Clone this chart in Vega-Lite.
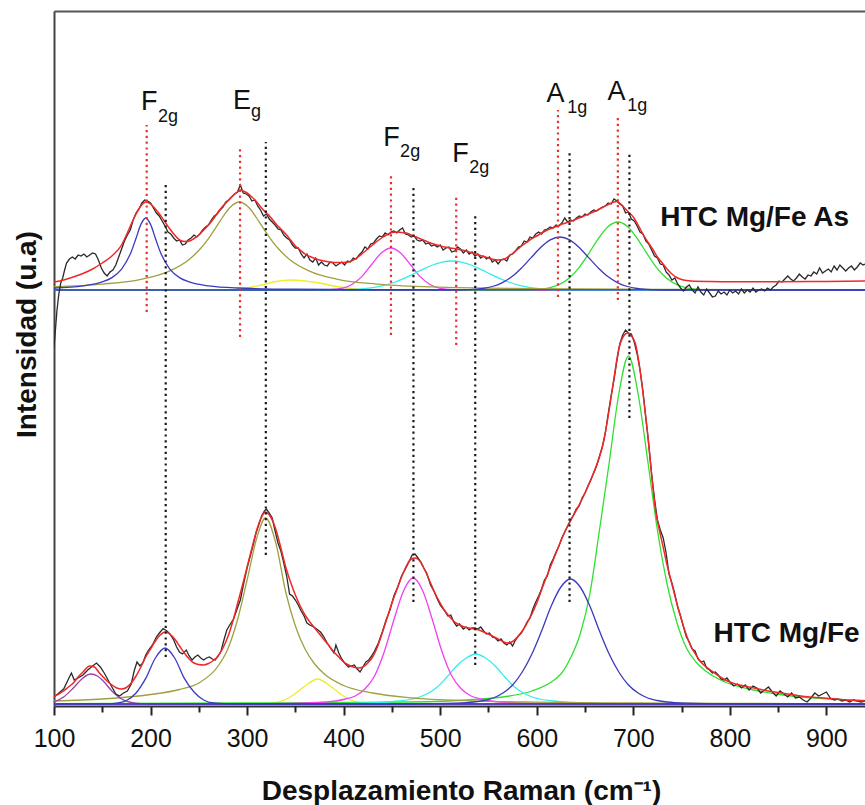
{
  "$schema": "https://vega.github.io/schema/vega-lite/v6.json",
  "width": 811,
  "height": 695,
  "autosize": {"type": "none"},
  "padding": {"left": 54, "top": 11, "right": 0, "bottom": 99},
  "background": "white",
  "config": {"view": {"stroke": null}, "axis": {"grid": false}, "font": "Liberation Sans"},
  "datasets": {
    "comp": [
      {"s":"bY","x":100,"y":2},{"s":"bY","x":310,"y":2},{"s":"bY","x":320,"y":2.2},{"s":"bY","x":330,"y":3.5},{"s":"bY","x":340,"y":6.5},{"s":"bY","x":350,"y":12.5},{"s":"bY","x":360,"y":20},{"s":"bY","x":373,"y":27},{"s":"bY","x":386,"y":20},{"s":"bY","x":396,"y":12.5},{"s":"bY","x":406,"y":6.5},{"s":"bY","x":416,"y":3.5},{"s":"bY","x":426,"y":2.2},{"s":"bY","x":440,"y":2},{"s":"bY","x":940,"y":2},
      {"s":"bG","x":100,"y":2.4},{"s":"bG","x":300,"y":3},{"s":"bG","x":400,"y":3.5},{"s":"bG","x":495,"y":4.5},{"s":"bG","x":535,"y":6.5},{"s":"bG","x":565,"y":9},{"s":"bG","x":595,"y":15},{"s":"bG","x":615,"y":24},{"s":"bG","x":625,"y":32},{"s":"bG","x":635,"y":48},{"s":"bG","x":645,"y":72},{"s":"bG","x":655,"y":112},{"s":"bG","x":665,"y":176},{"s":"bG","x":675,"y":243},{"s":"bG","x":685,"y":312},{"s":"bG","x":695,"y":350},{"s":"bG","x":705,"y":312},{"s":"bG","x":715,"y":245},{"s":"bG","x":725,"y":176},{"s":"bG","x":735,"y":122},{"s":"bG","x":745,"y":84},{"s":"bG","x":755,"y":58},{"s":"bG","x":765,"y":44},{"s":"bG","x":775,"y":35},{"s":"bG","x":795,"y":24},{"s":"bG","x":825,"y":16},{"s":"bG","x":855,"y":11},{"s":"bG","x":895,"y":7.5},{"s":"bG","x":940,"y":5.5},
      {"s":"bC","x":100,"y":2},{"s":"bC","x":380,"y":2},{"s":"bC","x":407,"y":2.6},{"s":"bC","x":437,"y":3.5},{"s":"bC","x":457,"y":5},{"s":"bC","x":477,"y":8.5},{"s":"bC","x":487,"y":12.5},{"s":"bC","x":497,"y":19},{"s":"bC","x":507,"y":29},{"s":"bC","x":517,"y":40},{"s":"bC","x":527,"y":48},{"s":"bC","x":537,"y":52},{"s":"bC","x":547,"y":48},{"s":"bC","x":557,"y":40},{"s":"bC","x":567,"y":29},{"s":"bC","x":577,"y":19},{"s":"bC","x":587,"y":12.5},{"s":"bC","x":597,"y":8.5},{"s":"bC","x":617,"y":5},{"s":"bC","x":637,"y":3.5},{"s":"bC","x":667,"y":2.6},{"s":"bC","x":720,"y":2},{"s":"bC","x":940,"y":2},
      {"s":"bM","x":100,"y":2},{"s":"bM","x":300,"y":2},{"s":"bM","x":342,"y":2.5},{"s":"bM","x":372,"y":3.5},{"s":"bM","x":392,"y":5},{"s":"bM","x":402,"y":7},{"s":"bM","x":412,"y":10},{"s":"bM","x":422,"y":17},{"s":"bM","x":432,"y":30},{"s":"bM","x":442,"y":54},{"s":"bM","x":452,"y":86},{"s":"bM","x":462,"y":115},{"s":"bM","x":472,"y":128},{"s":"bM","x":482,"y":115},{"s":"bM","x":492,"y":86},{"s":"bM","x":502,"y":54},{"s":"bM","x":512,"y":30},{"s":"bM","x":522,"y":17},{"s":"bM","x":532,"y":10},{"s":"bM","x":542,"y":7},{"s":"bM","x":552,"y":5},{"s":"bM","x":572,"y":3.5},{"s":"bM","x":602,"y":2.5},{"s":"bM","x":700,"y":2},{"s":"bM","x":940,"y":2},
      {"s":"bO","x":100,"y":5},{"s":"bO","x":150,"y":7},{"s":"bO","x":200,"y":11.5},{"s":"bO","x":230,"y":16.5},{"s":"bO","x":250,"y":23},{"s":"bO","x":270,"y":40},{"s":"bO","x":280,"y":57},{"s":"bO","x":290,"y":86},{"s":"bO","x":300,"y":126},{"s":"bO","x":310,"y":168},{"s":"bO","x":319,"y":188},{"s":"bO","x":330,"y":162},{"s":"bO","x":340,"y":114},{"s":"bO","x":350,"y":80},{"s":"bO","x":360,"y":57},{"s":"bO","x":370,"y":42},{"s":"bO","x":380,"y":32},{"s":"bO","x":400,"y":20.5},{"s":"bO","x":430,"y":13},{"s":"bO","x":470,"y":8.2},{"s":"bO","x":530,"y":5.2},{"s":"bO","x":600,"y":3.8},{"s":"bO","x":700,"y":3},{"s":"bO","x":800,"y":2.6},{"s":"bO","x":940,"y":2.4},
      {"s":"bPu","x":100,"y":4},{"s":"bPu","x":110,"y":9},{"s":"bPu","x":120,"y":18},{"s":"bPu","x":130,"y":28},{"s":"bPu","x":138,"y":32},{"s":"bPu","x":145,"y":30},{"s":"bPu","x":150,"y":26},{"s":"bPu","x":160,"y":15},{"s":"bPu","x":170,"y":7},{"s":"bPu","x":180,"y":3.5},{"s":"bPu","x":190,"y":2.3},{"s":"bPu","x":200,"y":2},{"s":"bPu","x":940,"y":2},
      {"s":"bB1","x":100,"y":2},{"s":"bB1","x":155,"y":2.2},{"s":"bB1","x":165,"y":2.8},{"s":"bB1","x":175,"y":5.5},{"s":"bB1","x":185,"y":13},{"s":"bB1","x":195,"y":27.6},{"s":"bB1","x":205,"y":48},{"s":"bB1","x":215,"y":58},{"s":"bB1","x":225,"y":48},{"s":"bB1","x":235,"y":27.6},{"s":"bB1","x":245,"y":14},{"s":"bB1","x":255,"y":6},{"s":"bB1","x":265,"y":3},{"s":"bB1","x":280,"y":2.2},{"s":"bB1","x":300,"y":2},{"s":"bB1","x":940,"y":2},
      {"s":"bB2","x":100,"y":2},{"s":"bB2","x":460,"y":2},{"s":"bB2","x":485,"y":2.3},{"s":"bB2","x":515,"y":2.8},{"s":"bB2","x":535,"y":4},{"s":"bB2","x":545,"y":5.5},{"s":"bB2","x":555,"y":8},{"s":"bB2","x":565,"y":13},{"s":"bB2","x":575,"y":21},{"s":"bB2","x":585,"y":34},{"s":"bB2","x":595,"y":52},{"s":"bB2","x":605,"y":75},{"s":"bB2","x":615,"y":100},{"s":"bB2","x":625,"y":119},{"s":"bB2","x":635,"y":127},{"s":"bB2","x":645,"y":119},{"s":"bB2","x":655,"y":100},{"s":"bB2","x":665,"y":75},{"s":"bB2","x":675,"y":52},{"s":"bB2","x":685,"y":34},{"s":"bB2","x":695,"y":21},{"s":"bB2","x":705,"y":13},{"s":"bB2","x":715,"y":8},{"s":"bB2","x":725,"y":5.5},{"s":"bB2","x":735,"y":4},{"s":"bB2","x":755,"y":2.8},{"s":"bB2","x":785,"y":2.3},{"s":"bB2","x":820,"y":2},{"s":"bB2","x":940,"y":2},
      {"s":"tY","x":100,"y":416},{"s":"tY","x":280,"y":416},{"s":"tY","x":300,"y":418},{"s":"tY","x":315,"y":421},{"s":"tY","x":330,"y":424.5},{"s":"tY","x":345,"y":426},{"s":"tY","x":360,"y":425},{"s":"tY","x":375,"y":423},{"s":"tY","x":390,"y":420},{"s":"tY","x":405,"y":418},{"s":"tY","x":420,"y":416.5},{"s":"tY","x":440,"y":416},{"s":"tY","x":940,"y":416},
      {"s":"tM","x":100,"y":416},{"s":"tM","x":370,"y":416},{"s":"tM","x":385,"y":416.3},{"s":"tM","x":399,"y":417.8},{"s":"tM","x":409,"y":421.7},{"s":"tM","x":419,"y":429.6},{"s":"tM","x":429,"y":441.5},{"s":"tM","x":439,"y":453},{"s":"tM","x":449,"y":458},{"s":"tM","x":459,"y":453},{"s":"tM","x":469,"y":441.5},{"s":"tM","x":479,"y":429.6},{"s":"tM","x":489,"y":421.7},{"s":"tM","x":499,"y":417.8},{"s":"tM","x":513,"y":416.3},{"s":"tM","x":530,"y":416},{"s":"tM","x":940,"y":416},
      {"s":"tC","x":100,"y":416},{"s":"tC","x":400,"y":416},{"s":"tC","x":412,"y":416.5},{"s":"tC","x":422,"y":417.4},{"s":"tC","x":432,"y":418.6},{"s":"tC","x":442,"y":420.6},{"s":"tC","x":452,"y":423.5},{"s":"tC","x":462,"y":427.3},{"s":"tC","x":472,"y":431.9},{"s":"tC","x":482,"y":436.7},{"s":"tC","x":492,"y":441},{"s":"tC","x":502,"y":443.9},{"s":"tC","x":512,"y":445},{"s":"tC","x":522,"y":443.9},{"s":"tC","x":532,"y":441},{"s":"tC","x":542,"y":436.7},{"s":"tC","x":552,"y":431.9},{"s":"tC","x":562,"y":427.3},{"s":"tC","x":572,"y":423.5},{"s":"tC","x":582,"y":420.6},{"s":"tC","x":592,"y":418.6},{"s":"tC","x":602,"y":417.4},{"s":"tC","x":612,"y":416.5},{"s":"tC","x":630,"y":416},{"s":"tC","x":940,"y":416},
      {"s":"tG","x":100,"y":416},{"s":"tG","x":590,"y":416},{"s":"tG","x":604,"y":416.9},{"s":"tG","x":614,"y":418.4},{"s":"tG","x":624,"y":421.8},{"s":"tG","x":634,"y":428.3},{"s":"tG","x":644,"y":438.7},{"s":"tG","x":654,"y":452.7},{"s":"tG","x":664,"y":467.7},{"s":"tG","x":674,"y":479.5},{"s":"tG","x":684,"y":484},{"s":"tG","x":694,"y":479.5},{"s":"tG","x":704,"y":467.7},{"s":"tG","x":714,"y":452.7},{"s":"tG","x":724,"y":438.7},{"s":"tG","x":734,"y":428.3},{"s":"tG","x":744,"y":421.8},{"s":"tG","x":754,"y":418.4},{"s":"tG","x":764,"y":416.9},{"s":"tG","x":780,"y":416},{"s":"tG","x":940,"y":416},
      {"s":"tO","x":100,"y":419.3},{"s":"tO","x":150,"y":421.9},{"s":"tO","x":190,"y":426.7},{"s":"tO","x":220,"y":435.2},{"s":"tO","x":240,"y":446.6},{"s":"tO","x":252,"y":457.7},{"s":"tO","x":262,"y":470.2},{"s":"tO","x":272,"y":484.9},{"s":"tO","x":282,"y":498.3},{"s":"tO","x":292,"y":504},{"s":"tO","x":302,"y":498.3},{"s":"tO","x":312,"y":484.9},{"s":"tO","x":322,"y":470.2},{"s":"tO","x":332,"y":457.7},{"s":"tO","x":344,"y":446.6},{"s":"tO","x":364,"y":435.2},{"s":"tO","x":394,"y":426.7},{"s":"tO","x":434,"y":421.9},{"s":"tO","x":492,"y":419.1},{"s":"tO","x":592,"y":417.4},{"s":"tO","x":742,"y":416.6},{"s":"tO","x":940,"y":416.3},
      {"s":"tB1","x":100,"y":418},{"s":"tB1","x":130,"y":420.1},{"s":"tB1","x":150,"y":424.1},{"s":"tB1","x":160,"y":428.4},{"s":"tB1","x":170,"y":436.9},{"s":"tB1","x":180,"y":454.3},{"s":"tB1","x":185,"y":467.8},{"s":"tB1","x":190,"y":481.6},{"s":"tB1","x":195,"y":488},{"s":"tB1","x":200,"y":481.6},{"s":"tB1","x":205,"y":467.8},{"s":"tB1","x":210,"y":454.3},{"s":"tB1","x":220,"y":436.9},{"s":"tB1","x":230,"y":428.4},{"s":"tB1","x":240,"y":424.1},{"s":"tB1","x":260,"y":420.1},{"s":"tB1","x":290,"y":418},{"s":"tB1","x":350,"y":416.8},{"s":"tB1","x":450,"y":416.3},{"s":"tB1","x":940,"y":416},
      {"s":"tB2","x":100,"y":416},{"s":"tB2","x":515,"y":416},{"s":"tB2","x":524,"y":416.2},{"s":"tB2","x":534,"y":416.6},{"s":"tB2","x":544,"y":417.5},{"s":"tB2","x":554,"y":419.5},{"s":"tB2","x":564,"y":423.2},{"s":"tB2","x":574,"y":429.2},{"s":"tB2","x":584,"y":437.8},{"s":"tB2","x":594,"y":448.1},{"s":"tB2","x":604,"y":458.5},{"s":"tB2","x":614,"y":466.1},{"s":"tB2","x":624,"y":469},{"s":"tB2","x":634,"y":466.1},{"s":"tB2","x":644,"y":458.5},{"s":"tB2","x":654,"y":448.1},{"s":"tB2","x":664,"y":437.8},{"s":"tB2","x":674,"y":429.2},{"s":"tB2","x":684,"y":423.2},{"s":"tB2","x":694,"y":419.5},{"s":"tB2","x":704,"y":417.5},{"s":"tB2","x":714,"y":416.6},{"s":"tB2","x":724,"y":416.2},{"s":"tB2","x":740,"y":416},{"s":"tB2","x":940,"y":416}
    ],
    "obs": [
      {"s":"b","x":100,"y":9},{"s":"b","x":105,"y":13},{"s":"b","x":110,"y":17},{"s":"b","x":115,"y":27},{"s":"b","x":118,"y":33},{"s":"b","x":121,"y":26},{"s":"b","x":125,"y":28},{"s":"b","x":130,"y":31},{"s":"b","x":135,"y":36},{"s":"b","x":140,"y":40},{"s":"b","x":144,"y":43},{"s":"b","x":148,"y":39},{"s":"b","x":152,"y":33},{"s":"b","x":156,"y":26},{"s":"b","x":160,"y":19},{"s":"b","x":164,"y":12},{"s":"b","x":168,"y":10},{"s":"b","x":172,"y":13},{"s":"b","x":176,"y":15},{"s":"b","x":180,"y":22},{"s":"b","x":183,"y":35},{"s":"b","x":186,"y":44},{"s":"b","x":189,"y":40},{"s":"b","x":192,"y":43},{"s":"b","x":195,"y":51},{"s":"b","x":198,"y":56},{"s":"b","x":202,"y":61},{"s":"b","x":206,"y":69},{"s":"b","x":210,"y":74},{"s":"b","x":213,"y":77.5},{"s":"b","x":217,"y":75},{"s":"b","x":220,"y":72},{"s":"b","x":224,"y":66},{"s":"b","x":227,"y":59},{"s":"b","x":230,"y":54},{"s":"b","x":233,"y":52},{"s":"b","x":237,"y":56},{"s":"b","x":240,"y":50},{"s":"b","x":243,"y":46},{"s":"b","x":246,"y":49},{"s":"b","x":249,"y":51},{"s":"b","x":252,"y":48},{"s":"b","x":255,"y":46},{"s":"b","x":258,"y":48},{"s":"b","x":261,"y":49},{"s":"b","x":264,"y":47},{"s":"b","x":267,"y":46},{"s":"b","x":270,"y":50},{"s":"b","x":273,"y":55},{"s":"b","x":276,"y":66},{"s":"b","x":279,"y":76},{"s":"b","x":282,"y":81},{"s":"b","x":286,"y":87},{"s":"b","x":290,"y":98},{"s":"b","x":293,"y":106},{"s":"b","x":297,"y":125},{"s":"b","x":300,"y":138},{"s":"b","x":303,"y":149},{"s":"b","x":306,"y":160},{"s":"b","x":309,"y":172},{"s":"b","x":312,"y":181},{"s":"b","x":315,"y":190},{"s":"b","x":318,"y":195},{"s":"b","x":320,"y":197},{"s":"b","x":323,"y":193},{"s":"b","x":326,"y":188},{"s":"b","x":329,"y":175},{"s":"b","x":332,"y":163},{"s":"b","x":335,"y":155},{"s":"b","x":338,"y":143},{"s":"b","x":341,"y":130},{"s":"b","x":344,"y":112},{"s":"b","x":347,"y":110},{"s":"b","x":350,"y":106},{"s":"b","x":353,"y":101},{"s":"b","x":356,"y":95},{"s":"b","x":359,"y":90},{"s":"b","x":362,"y":83},{"s":"b","x":365,"y":81},{"s":"b","x":369,"y":79},{"s":"b","x":372,"y":77},{"s":"b","x":376,"y":74},{"s":"b","x":379,"y":70},{"s":"b","x":383,"y":63},{"s":"b","x":387,"y":57},{"s":"b","x":390,"y":53},{"s":"b","x":392,"y":61},{"s":"b","x":395,"y":53},{"s":"b","x":398,"y":47},{"s":"b","x":401,"y":43},{"s":"b","x":405,"y":39},{"s":"b","x":408,"y":40},{"s":"b","x":411,"y":41},{"s":"b","x":414,"y":37},{"s":"b","x":417,"y":34},{"s":"b","x":420,"y":39},{"s":"b","x":423,"y":44},{"s":"b","x":426,"y":46},{"s":"b","x":429,"y":50},{"s":"b","x":432,"y":55},{"s":"b","x":436,"y":63},{"s":"b","x":440,"y":74},{"s":"b","x":444,"y":86},{"s":"b","x":448,"y":96},{"s":"b","x":452,"y":110},{"s":"b","x":456,"y":119},{"s":"b","x":460,"y":130},{"s":"b","x":464,"y":137},{"s":"b","x":468,"y":145},{"s":"b","x":471,"y":151},{"s":"b","x":474,"y":152},{"s":"b","x":477,"y":148},{"s":"b","x":480,"y":144},{"s":"b","x":483,"y":138},{"s":"b","x":486,"y":133},{"s":"b","x":490,"y":121},{"s":"b","x":494,"y":114},{"s":"b","x":497,"y":107},{"s":"b","x":500,"y":101},{"s":"b","x":504,"y":96},{"s":"b","x":508,"y":90},{"s":"b","x":511,"y":91},{"s":"b","x":514,"y":84},{"s":"b","x":517,"y":80},{"s":"b","x":520,"y":82},{"s":"b","x":524,"y":77},{"s":"b","x":527,"y":79},{"s":"b","x":530,"y":76},{"s":"b","x":533,"y":78},{"s":"b","x":536,"y":78},{"s":"b","x":539,"y":77},{"s":"b","x":542,"y":79},{"s":"b","x":545,"y":75},{"s":"b","x":548,"y":72},{"s":"b","x":551,"y":73},{"s":"b","x":554,"y":69},{"s":"b","x":557,"y":68},{"s":"b","x":560,"y":65},{"s":"b","x":563,"y":67},{"s":"b","x":566,"y":63},{"s":"b","x":569,"y":61},{"s":"b","x":572,"y":64},{"s":"b","x":575,"y":60},{"s":"b","x":578,"y":66},{"s":"b","x":581,"y":70},{"s":"b","x":584,"y":73},{"s":"b","x":587,"y":78},{"s":"b","x":590,"y":84},{"s":"b","x":593,"y":88},{"s":"b","x":596,"y":97},{"s":"b","x":599,"y":104},{"s":"b","x":602,"y":110},{"s":"b","x":605,"y":117},{"s":"b","x":608,"y":126},{"s":"b","x":611,"y":130},{"s":"b","x":614,"y":141},{"s":"b","x":617,"y":147},{"s":"b","x":620,"y":154},{"s":"b","x":623,"y":160},{"s":"b","x":626,"y":168},{"s":"b","x":629,"y":174},{"s":"b","x":632,"y":180},{"s":"b","x":635,"y":186},{"s":"b","x":638,"y":191},{"s":"b","x":641,"y":197},{"s":"b","x":644,"y":200},{"s":"b","x":647,"y":208},{"s":"b","x":650,"y":213},{"s":"b","x":653,"y":220},{"s":"b","x":656,"y":226},{"s":"b","x":659,"y":233},{"s":"b","x":662,"y":240},{"s":"b","x":665,"y":250},{"s":"b","x":668,"y":259},{"s":"b","x":671,"y":273},{"s":"b","x":674,"y":292},{"s":"b","x":677,"y":310},{"s":"b","x":680,"y":326},{"s":"b","x":683,"y":345},{"s":"b","x":686,"y":362},{"s":"b","x":689,"y":371},{"s":"b","x":692,"y":376},{"s":"b","x":695,"y":373},{"s":"b","x":698,"y":372},{"s":"b","x":701,"y":364},{"s":"b","x":704,"y":352},{"s":"b","x":707,"y":336},{"s":"b","x":710,"y":315},{"s":"b","x":713,"y":288},{"s":"b","x":716,"y":262},{"s":"b","x":719,"y":232},{"s":"b","x":722,"y":207},{"s":"b","x":725,"y":186},{"s":"b","x":728,"y":176},{"s":"b","x":731,"y":168},{"s":"b","x":734,"y":153},{"s":"b","x":737,"y":132},{"s":"b","x":740,"y":123},{"s":"b","x":743,"y":112},{"s":"b","x":746,"y":99},{"s":"b","x":749,"y":90},{"s":"b","x":752,"y":79},{"s":"b","x":755,"y":69},{"s":"b","x":758,"y":64},{"s":"b","x":761,"y":57},{"s":"b","x":764,"y":55},{"s":"b","x":767,"y":47},{"s":"b","x":770,"y":44},{"s":"b","x":773,"y":45},{"s":"b","x":776,"y":38},{"s":"b","x":779,"y":36},{"s":"b","x":782,"y":33},{"s":"b","x":785,"y":34},{"s":"b","x":788,"y":31},{"s":"b","x":791,"y":27},{"s":"b","x":794,"y":26},{"s":"b","x":797,"y":28},{"s":"b","x":800,"y":24},{"s":"b","x":804,"y":20},{"s":"b","x":808,"y":22},{"s":"b","x":812,"y":18},{"s":"b","x":816,"y":21},{"s":"b","x":820,"y":16},{"s":"b","x":824,"y":20},{"s":"b","x":828,"y":18},{"s":"b","x":832,"y":13},{"s":"b","x":836,"y":16},{"s":"b","x":840,"y":19},{"s":"b","x":844,"y":14},{"s":"b","x":848,"y":10},{"s":"b","x":852,"y":15},{"s":"b","x":856,"y":12},{"s":"b","x":860,"y":9},{"s":"b","x":864,"y":13},{"s":"b","x":868,"y":8},{"s":"b","x":872,"y":9},{"s":"b","x":876,"y":6},{"s":"b","x":880,"y":4},{"s":"b","x":884,"y":8},{"s":"b","x":888,"y":13},{"s":"b","x":892,"y":10},{"s":"b","x":896,"y":12},{"s":"b","x":900,"y":14},{"s":"b","x":904,"y":8},{"s":"b","x":908,"y":6},{"s":"b","x":912,"y":7},{"s":"b","x":916,"y":5},{"s":"b","x":920,"y":6},{"s":"b","x":924,"y":4},{"s":"b","x":928,"y":6},{"s":"b","x":932,"y":5},{"s":"b","x":936,"y":4},{"s":"b","x":940,"y":5},
      {"s":"t","x":100,"y":358},{"s":"t","x":101,"y":370},{"s":"t","x":103,"y":395},{"s":"t","x":105,"y":412},{"s":"t","x":107,"y":423},{"s":"t","x":109,"y":428},{"s":"t","x":111,"y":436},{"s":"t","x":113,"y":443},{"s":"t","x":116,"y":447},{"s":"t","x":119,"y":449},{"s":"t","x":122,"y":447},{"s":"t","x":125,"y":451},{"s":"t","x":128,"y":450},{"s":"t","x":131,"y":452},{"s":"t","x":134,"y":449},{"s":"t","x":137,"y":451},{"s":"t","x":140,"y":453},{"s":"t","x":143,"y":452},{"s":"t","x":146,"y":446},{"s":"t","x":149,"y":438},{"s":"t","x":152,"y":433},{"s":"t","x":155,"y":430},{"s":"t","x":158,"y":434},{"s":"t","x":161,"y":436},{"s":"t","x":164,"y":441},{"s":"t","x":167,"y":449},{"s":"t","x":170,"y":457},{"s":"t","x":173,"y":465},{"s":"t","x":176,"y":471},{"s":"t","x":179,"y":476},{"s":"t","x":182,"y":486},{"s":"t","x":185,"y":493},{"s":"t","x":188,"y":497},{"s":"t","x":191,"y":503},{"s":"t","x":194,"y":506},{"s":"t","x":197,"y":505},{"s":"t","x":200,"y":503},{"s":"t","x":203,"y":498},{"s":"t","x":206,"y":493},{"s":"t","x":209,"y":490},{"s":"t","x":212,"y":485},{"s":"t","x":215,"y":480},{"s":"t","x":218,"y":474},{"s":"t","x":221,"y":472},{"s":"t","x":224,"y":468},{"s":"t","x":227,"y":465},{"s":"t","x":230,"y":466},{"s":"t","x":233,"y":461},{"s":"t","x":236,"y":462},{"s":"t","x":239,"y":466},{"s":"t","x":242,"y":468},{"s":"t","x":245,"y":471},{"s":"t","x":248,"y":469},{"s":"t","x":251,"y":472},{"s":"t","x":254,"y":476},{"s":"t","x":257,"y":479},{"s":"t","x":260,"y":481},{"s":"t","x":263,"y":486},{"s":"t","x":266,"y":490},{"s":"t","x":269,"y":492},{"s":"t","x":272,"y":496},{"s":"t","x":275,"y":499},{"s":"t","x":278,"y":504},{"s":"t","x":281,"y":506},{"s":"t","x":284,"y":509},{"s":"t","x":287,"y":512},{"s":"t","x":290,"y":514},{"s":"t","x":293,"y":521},{"s":"t","x":296,"y":513},{"s":"t","x":299,"y":512},{"s":"t","x":302,"y":510},{"s":"t","x":305,"y":505},{"s":"t","x":308,"y":506},{"s":"t","x":311,"y":500},{"s":"t","x":314,"y":496},{"s":"t","x":317,"y":490},{"s":"t","x":320,"y":492},{"s":"t","x":323,"y":487},{"s":"t","x":326,"y":484},{"s":"t","x":329,"y":481},{"s":"t","x":332,"y":477},{"s":"t","x":335,"y":476},{"s":"t","x":338,"y":471},{"s":"t","x":341,"y":468},{"s":"t","x":344,"y":466},{"s":"t","x":347,"y":461},{"s":"t","x":350,"y":458},{"s":"t","x":353,"y":458},{"s":"t","x":356,"y":452},{"s":"t","x":359,"y":448},{"s":"t","x":362,"y":452},{"s":"t","x":365,"y":446},{"s":"t","x":368,"y":444},{"s":"t","x":371,"y":448},{"s":"t","x":374,"y":441},{"s":"t","x":377,"y":444},{"s":"t","x":380,"y":441},{"s":"t","x":383,"y":440},{"s":"t","x":386,"y":444},{"s":"t","x":389,"y":443},{"s":"t","x":392,"y":440},{"s":"t","x":395,"y":442},{"s":"t","x":398,"y":444},{"s":"t","x":401,"y":441},{"s":"t","x":404,"y":445},{"s":"t","x":407,"y":444},{"s":"t","x":410,"y":448},{"s":"t","x":413,"y":447},{"s":"t","x":416,"y":451},{"s":"t","x":419,"y":454},{"s":"t","x":422,"y":459},{"s":"t","x":425,"y":457},{"s":"t","x":428,"y":462},{"s":"t","x":431,"y":463},{"s":"t","x":434,"y":467},{"s":"t","x":437,"y":470},{"s":"t","x":440,"y":469},{"s":"t","x":443,"y":473},{"s":"t","x":446,"y":471},{"s":"t","x":449,"y":474},{"s":"t","x":452,"y":475},{"s":"t","x":455,"y":473},{"s":"t","x":458,"y":476},{"s":"t","x":461,"y":478},{"s":"t","x":464,"y":472},{"s":"t","x":467,"y":471},{"s":"t","x":470,"y":469},{"s":"t","x":473,"y":470},{"s":"t","x":476,"y":466},{"s":"t","x":479,"y":465},{"s":"t","x":482,"y":466},{"s":"t","x":485,"y":462},{"s":"t","x":488,"y":463},{"s":"t","x":491,"y":460},{"s":"t","x":494,"y":461},{"s":"t","x":497,"y":459},{"s":"t","x":500,"y":461},{"s":"t","x":503,"y":456},{"s":"t","x":506,"y":458},{"s":"t","x":509,"y":459},{"s":"t","x":512,"y":454},{"s":"t","x":515,"y":455},{"s":"t","x":518,"y":459},{"s":"t","x":521,"y":457},{"s":"t","x":524,"y":453},{"s":"t","x":527,"y":456},{"s":"t","x":530,"y":452},{"s":"t","x":533,"y":454},{"s":"t","x":536,"y":450},{"s":"t","x":539,"y":452},{"s":"t","x":542,"y":448},{"s":"t","x":545,"y":450},{"s":"t","x":548,"y":447},{"s":"t","x":551,"y":449},{"s":"t","x":554,"y":444},{"s":"t","x":557,"y":446},{"s":"t","x":560,"y":442},{"s":"t","x":563,"y":446},{"s":"t","x":566,"y":447},{"s":"t","x":569,"y":445},{"s":"t","x":572,"y":451},{"s":"t","x":575,"y":452},{"s":"t","x":578,"y":455},{"s":"t","x":581,"y":459},{"s":"t","x":584,"y":460},{"s":"t","x":587,"y":465},{"s":"t","x":590,"y":464},{"s":"t","x":593,"y":469},{"s":"t","x":596,"y":468},{"s":"t","x":599,"y":472},{"s":"t","x":602,"y":474},{"s":"t","x":605,"y":472},{"s":"t","x":608,"y":476},{"s":"t","x":611,"y":477},{"s":"t","x":614,"y":479},{"s":"t","x":617,"y":478},{"s":"t","x":620,"y":481},{"s":"t","x":623,"y":480},{"s":"t","x":626,"y":483},{"s":"t","x":629,"y":488},{"s":"t","x":632,"y":484},{"s":"t","x":635,"y":486},{"s":"t","x":638,"y":485},{"s":"t","x":641,"y":488},{"s":"t","x":644,"y":490},{"s":"t","x":647,"y":489},{"s":"t","x":650,"y":492},{"s":"t","x":653,"y":491},{"s":"t","x":656,"y":494},{"s":"t","x":659,"y":496},{"s":"t","x":662,"y":495},{"s":"t","x":665,"y":497},{"s":"t","x":668,"y":499},{"s":"t","x":671,"y":500},{"s":"t","x":674,"y":503},{"s":"t","x":677,"y":502},{"s":"t","x":680,"y":507},{"s":"t","x":683,"y":505},{"s":"t","x":686,"y":502},{"s":"t","x":689,"y":500},{"s":"t","x":692,"y":493},{"s":"t","x":695,"y":494},{"s":"t","x":698,"y":487},{"s":"t","x":701,"y":485},{"s":"t","x":704,"y":480},{"s":"t","x":707,"y":474},{"s":"t","x":710,"y":472},{"s":"t","x":713,"y":465},{"s":"t","x":716,"y":462},{"s":"t","x":719,"y":456},{"s":"t","x":722,"y":450},{"s":"t","x":725,"y":448},{"s":"t","x":728,"y":442},{"s":"t","x":731,"y":441},{"s":"t","x":734,"y":434},{"s":"t","x":737,"y":431},{"s":"t","x":740,"y":426},{"s":"t","x":743,"y":428},{"s":"t","x":746,"y":422},{"s":"t","x":749,"y":418},{"s":"t","x":752,"y":415},{"s":"t","x":755,"y":419},{"s":"t","x":758,"y":421},{"s":"t","x":761,"y":416},{"s":"t","x":764,"y":413},{"s":"t","x":767,"y":419},{"s":"t","x":770,"y":414},{"s":"t","x":773,"y":411},{"s":"t","x":776,"y":417},{"s":"t","x":779,"y":413},{"s":"t","x":782,"y":409},{"s":"t","x":785,"y":410},{"s":"t","x":788,"y":415},{"s":"t","x":791,"y":412},{"s":"t","x":794,"y":414},{"s":"t","x":797,"y":411},{"s":"t","x":800,"y":416},{"s":"t","x":803,"y":413},{"s":"t","x":806,"y":415},{"s":"t","x":809,"y":412},{"s":"t","x":812,"y":417},{"s":"t","x":815,"y":413},{"s":"t","x":818,"y":416},{"s":"t","x":821,"y":414},{"s":"t","x":824,"y":418},{"s":"t","x":827,"y":414},{"s":"t","x":830,"y":416},{"s":"t","x":833,"y":417},{"s":"t","x":836,"y":415},{"s":"t","x":839,"y":418},{"s":"t","x":842,"y":416},{"s":"t","x":845,"y":419},{"s":"t","x":848,"y":421},{"s":"t","x":851,"y":425},{"s":"t","x":854,"y":424},{"s":"t","x":857,"y":427},{"s":"t","x":860,"y":430},{"s":"t","x":863,"y":427},{"s":"t","x":866,"y":425},{"s":"t","x":869,"y":428},{"s":"t","x":872,"y":432},{"s":"t","x":875,"y":429},{"s":"t","x":878,"y":427},{"s":"t","x":881,"y":431},{"s":"t","x":884,"y":430},{"s":"t","x":887,"y":434},{"s":"t","x":890,"y":432},{"s":"t","x":893,"y":438},{"s":"t","x":896,"y":433},{"s":"t","x":899,"y":435},{"s":"t","x":902,"y":437},{"s":"t","x":905,"y":434},{"s":"t","x":908,"y":440},{"s":"t","x":911,"y":436},{"s":"t","x":914,"y":441},{"s":"t","x":917,"y":438},{"s":"t","x":920,"y":435},{"s":"t","x":923,"y":438},{"s":"t","x":926,"y":440},{"s":"t","x":929,"y":436},{"s":"t","x":932,"y":439},{"s":"t","x":935,"y":443},{"s":"t","x":938,"y":441},{"s":"t","x":940,"y":442}
    ],
    "fit": [
      {"s":"b","x":100,"y":9.5},{"s":"b","x":105,"y":12},{"s":"b","x":110,"y":15},{"s":"b","x":115,"y":19},{"s":"b","x":120,"y":23},{"s":"b","x":125,"y":29},{"s":"b","x":130,"y":34},{"s":"b","x":137,"y":40},{"s":"b","x":142,"y":39},{"s":"b","x":147,"y":33},{"s":"b","x":150,"y":30},{"s":"b","x":155,"y":25},{"s":"b","x":160,"y":21},{"s":"b","x":165,"y":18},{"s":"b","x":170,"y":17},{"s":"b","x":175,"y":18.5},{"s":"b","x":180,"y":23},{"s":"b","x":185,"y":30},{"s":"b","x":190,"y":39},{"s":"b","x":195,"y":49},{"s":"b","x":200,"y":57},{"s":"b","x":205,"y":65},{"s":"b","x":210,"y":71},{"s":"b","x":215,"y":74},{"s":"b","x":220,"y":72},{"s":"b","x":225,"y":67},{"s":"b","x":230,"y":60},{"s":"b","x":235,"y":53},{"s":"b","x":240,"y":47},{"s":"b","x":245,"y":43},{"s":"b","x":250,"y":41.5},{"s":"b","x":255,"y":41},{"s":"b","x":260,"y":42.5},{"s":"b","x":265,"y":45.5},{"s":"b","x":270,"y":50},{"s":"b","x":275,"y":58},{"s":"b","x":280,"y":69},{"s":"b","x":285,"y":84},{"s":"b","x":290,"y":102},{"s":"b","x":295,"y":120},{"s":"b","x":300,"y":139},{"s":"b","x":305,"y":158},{"s":"b","x":310,"y":176},{"s":"b","x":315,"y":189},{"s":"b","x":319,"y":194},{"s":"b","x":323,"y":191},{"s":"b","x":327,"y":184},{"s":"b","x":330,"y":176},{"s":"b","x":335,"y":158},{"s":"b","x":340,"y":139},{"s":"b","x":345,"y":124},{"s":"b","x":350,"y":111},{"s":"b","x":355,"y":100},{"s":"b","x":360,"y":91},{"s":"b","x":365,"y":84},{"s":"b","x":370,"y":78},{"s":"b","x":375,"y":72},{"s":"b","x":380,"y":66},{"s":"b","x":385,"y":60},{"s":"b","x":390,"y":54},{"s":"b","x":395,"y":49},{"s":"b","x":400,"y":44},{"s":"b","x":405,"y":41},{"s":"b","x":410,"y":39},{"s":"b","x":415,"y":38},{"s":"b","x":420,"y":39},{"s":"b","x":425,"y":43},{"s":"b","x":430,"y":49},{"s":"b","x":435,"y":59},{"s":"b","x":440,"y":73},{"s":"b","x":445,"y":88},{"s":"b","x":450,"y":103},{"s":"b","x":455,"y":116},{"s":"b","x":460,"y":129},{"s":"b","x":465,"y":140},{"s":"b","x":470,"y":147},{"s":"b","x":474,"y":148},{"s":"b","x":478,"y":146},{"s":"b","x":482,"y":140},{"s":"b","x":486,"y":132},{"s":"b","x":490,"y":123},{"s":"b","x":495,"y":112},{"s":"b","x":500,"y":103},{"s":"b","x":505,"y":95},{"s":"b","x":510,"y":89},{"s":"b","x":515,"y":84},{"s":"b","x":520,"y":81},{"s":"b","x":525,"y":79},{"s":"b","x":530,"y":78},{"s":"b","x":535,"y":77},{"s":"b","x":540,"y":76},{"s":"b","x":545,"y":74},{"s":"b","x":550,"y":72},{"s":"b","x":555,"y":69.5},{"s":"b","x":560,"y":67},{"s":"b","x":565,"y":64.5},{"s":"b","x":570,"y":63},{"s":"b","x":575,"y":64.5},{"s":"b","x":580,"y":69},{"s":"b","x":585,"y":75},{"s":"b","x":590,"y":83},{"s":"b","x":595,"y":92},{"s":"b","x":600,"y":103},{"s":"b","x":605,"y":116},{"s":"b","x":610,"y":129},{"s":"b","x":615,"y":141},{"s":"b","x":620,"y":153},{"s":"b","x":625,"y":165},{"s":"b","x":630,"y":176},{"s":"b","x":635,"y":185},{"s":"b","x":640,"y":194},{"s":"b","x":645,"y":203},{"s":"b","x":650,"y":213},{"s":"b","x":655,"y":224},{"s":"b","x":660,"y":236},{"s":"b","x":665,"y":249},{"s":"b","x":670,"y":268},{"s":"b","x":675,"y":296},{"s":"b","x":680,"y":328},{"s":"b","x":685,"y":357},{"s":"b","x":690,"y":370},{"s":"b","x":694,"y":373},{"s":"b","x":698,"y":370},{"s":"b","x":702,"y":363},{"s":"b","x":707,"y":336},{"s":"b","x":711,"y":305},{"s":"b","x":715,"y":271},{"s":"b","x":719,"y":231},{"s":"b","x":723,"y":196},{"s":"b","x":727,"y":176},{"s":"b","x":730,"y":163},{"s":"b","x":735,"y":141},{"s":"b","x":740,"y":122},{"s":"b","x":745,"y":103},{"s":"b","x":750,"y":86},{"s":"b","x":755,"y":71},{"s":"b","x":760,"y":59},{"s":"b","x":765,"y":51},{"s":"b","x":770,"y":44},{"s":"b","x":775,"y":39.5},{"s":"b","x":780,"y":36},{"s":"b","x":790,"y":29},{"s":"b","x":800,"y":24},{"s":"b","x":810,"y":21},{"s":"b","x":820,"y":19},{"s":"b","x":830,"y":17},{"s":"b","x":840,"y":15},{"s":"b","x":850,"y":13.5},{"s":"b","x":860,"y":12},{"s":"b","x":870,"y":10.5},{"s":"b","x":880,"y":9.3},{"s":"b","x":890,"y":8.5},{"s":"b","x":900,"y":7.7},{"s":"b","x":910,"y":7},{"s":"b","x":920,"y":6},{"s":"b","x":930,"y":5.5},{"s":"b","x":940,"y":5},
      {"s":"t","x":100,"y":424},{"s":"t","x":110,"y":426},{"s":"t","x":120,"y":429},{"s":"t","x":130,"y":432.5},{"s":"t","x":140,"y":437},{"s":"t","x":150,"y":443},{"s":"t","x":160,"y":450},{"s":"t","x":170,"y":461},{"s":"t","x":175,"y":471},{"s":"t","x":180,"y":482},{"s":"t","x":185,"y":492},{"s":"t","x":190,"y":500},{"s":"t","x":195,"y":504},{"s":"t","x":200,"y":502},{"s":"t","x":205,"y":497},{"s":"t","x":210,"y":491},{"s":"t","x":215,"y":484},{"s":"t","x":220,"y":477},{"s":"t","x":225,"y":471},{"s":"t","x":230,"y":466},{"s":"t","x":235,"y":464.5},{"s":"t","x":240,"y":465},{"s":"t","x":245,"y":467.5},{"s":"t","x":250,"y":471},{"s":"t","x":255,"y":476},{"s":"t","x":260,"y":481},{"s":"t","x":265,"y":487},{"s":"t","x":270,"y":494},{"s":"t","x":275,"y":500},{"s":"t","x":280,"y":505},{"s":"t","x":285,"y":510},{"s":"t","x":290,"y":514},{"s":"t","x":293,"y":516},{"s":"t","x":296,"y":515},{"s":"t","x":300,"y":513},{"s":"t","x":305,"y":509},{"s":"t","x":310,"y":504},{"s":"t","x":315,"y":498},{"s":"t","x":320,"y":493},{"s":"t","x":325,"y":488},{"s":"t","x":330,"y":482},{"s":"t","x":335,"y":477},{"s":"t","x":340,"y":472},{"s":"t","x":345,"y":466},{"s":"t","x":350,"y":460},{"s":"t","x":355,"y":456},{"s":"t","x":360,"y":452},{"s":"t","x":365,"y":449.5},{"s":"t","x":370,"y":447.5},{"s":"t","x":375,"y":446},{"s":"t","x":380,"y":445},{"s":"t","x":385,"y":444},{"s":"t","x":390,"y":443.5},{"s":"t","x":395,"y":443.5},{"s":"t","x":400,"y":443.5},{"s":"t","x":405,"y":444},{"s":"t","x":410,"y":446},{"s":"t","x":415,"y":449},{"s":"t","x":420,"y":453},{"s":"t","x":425,"y":457},{"s":"t","x":430,"y":461},{"s":"t","x":435,"y":465},{"s":"t","x":440,"y":468.5},{"s":"t","x":445,"y":471.5},{"s":"t","x":450,"y":473.5},{"s":"t","x":455,"y":474},{"s":"t","x":460,"y":473.5},{"s":"t","x":465,"y":473},{"s":"t","x":470,"y":471},{"s":"t","x":475,"y":469},{"s":"t","x":480,"y":467},{"s":"t","x":485,"y":465},{"s":"t","x":490,"y":463},{"s":"t","x":495,"y":461.5},{"s":"t","x":500,"y":460},{"s":"t","x":505,"y":459},{"s":"t","x":510,"y":458},{"s":"t","x":515,"y":457.5},{"s":"t","x":520,"y":456.5},{"s":"t","x":525,"y":455.5},{"s":"t","x":530,"y":454},{"s":"t","x":535,"y":452.5},{"s":"t","x":540,"y":451},{"s":"t","x":545,"y":449.5},{"s":"t","x":550,"y":448},{"s":"t","x":555,"y":446.5},{"s":"t","x":560,"y":446},{"s":"t","x":565,"y":446.5},{"s":"t","x":570,"y":449},{"s":"t","x":575,"y":452.5},{"s":"t","x":580,"y":456.5},{"s":"t","x":585,"y":460.5},{"s":"t","x":590,"y":464},{"s":"t","x":595,"y":467.5},{"s":"t","x":600,"y":470},{"s":"t","x":605,"y":473},{"s":"t","x":610,"y":475.5},{"s":"t","x":615,"y":477.5},{"s":"t","x":620,"y":479.5},{"s":"t","x":625,"y":481.5},{"s":"t","x":630,"y":483},{"s":"t","x":635,"y":484.5},{"s":"t","x":640,"y":486.5},{"s":"t","x":645,"y":488.5},{"s":"t","x":650,"y":490.5},{"s":"t","x":655,"y":492.5},{"s":"t","x":660,"y":494.5},{"s":"t","x":665,"y":497},{"s":"t","x":670,"y":499.5},{"s":"t","x":675,"y":502},{"s":"t","x":680,"y":504},{"s":"t","x":683,"y":504.5},{"s":"t","x":687,"y":502},{"s":"t","x":690,"y":499},{"s":"t","x":695,"y":494},{"s":"t","x":700,"y":489},{"s":"t","x":705,"y":481},{"s":"t","x":710,"y":472},{"s":"t","x":715,"y":464},{"s":"t","x":720,"y":457},{"s":"t","x":725,"y":449},{"s":"t","x":730,"y":443},{"s":"t","x":735,"y":437},{"s":"t","x":740,"y":432},{"s":"t","x":745,"y":428.5},{"s":"t","x":750,"y":426.5},{"s":"t","x":755,"y":425.5},{"s":"t","x":760,"y":425},{"s":"t","x":780,"y":424.5},{"s":"t","x":800,"y":424.3},{"s":"t","x":850,"y":424.3},{"s":"t","x":900,"y":424.5},{"s":"t","x":940,"y":425}
    ],
    "refs": [
      {"k":"top","x":196,"y":394,"y2":581},{"k":"top","x":292.7,"y":369,"y2":558},{"k":"top","x":449,"y":371,"y2":531},{"k":"top","x":516.6,"y":361,"y2":509},{"k":"top","x":622,"y":409,"y2":596},{"k":"top","x":684,"y":406,"y2":591},
      {"k":"bot","x":215.7,"y":49,"y2":523},{"k":"bot","x":319.4,"y":151,"y2":564},{"k":"bot","x":472.3,"y":104,"y2":519},{"k":"bot","x":536.3,"y":41,"y2":490},{"k":"bot","x":634,"y":104,"y2":555},{"k":"bot","x":696,"y":288,"y2":553}
    ],
    "modes": [
      {"t":"F","x":190.2,"y":596},{"t":"E","x":285.5,"y":597},{"t":"F","x":441,"y":560},{"t":"F","x":512.4,"y":544},{"t":"A","x":610.2,"y":604},{"t":"A","x":673.4,"y":606}
    ],
    "subs": [
      {"t":"2g","x":207.8,"y":584},{"t":"g","x":304,"y":589},{"t":"2g","x":458.5,"y":549},{"t":"2g","x":530,"y":533},{"t":"1g","x":631.6,"y":593},{"t":"1g","x":693.8,"y":595}
    ],
    "names": [
      {"t":"HTC Mg/Fe As","x":728,"y":480},{"t":"HTC Mg/Fe","x":783,"y":64}
    ]
  },
  "encoding": {
    "y": {
      "field": "y", "type": "quantitative",
      "scale": {"domain": [0, 695], "nice": false, "zero": false},
      "axis": {
        "orient": "left", "domain": true, "domainColor": "#444", "domainWidth": 2,
        "ticks": false, "labels": false,
        "title": "Intensidad (u.a)", "titleFont": "Liberation Sans", "titleFontSize": 28,
        "titleFontWeight": "bold", "titleColor": "#111", "titleAngle": -90,
        "titleX": -19, "titleY": 323, "titleAlign": "center", "titleBaseline": "alphabetic"
      }
    }
  },
  "layer": [
    {
      "data": {"name": "comp"},
      "mark": {"type": "line", "interpolate": "monotone", "strokeWidth": 1.3, "clip": true},
      "encoding": {
        "x": {
          "field": "x", "type": "quantitative",
          "scale": {"domain": [100, 940], "nice": false, "zero": false},
          "axis": {
            "orient": "bottom", "values": [100, 200, 300, 400, 500, 600, 700, 800, 900],
            "tickSize": 9, "tickWidth": 2, "tickColor": "#222",
            "domainColor": "#333", "domainWidth": 2,
            "labelFont": "Liberation Sans", "labelFontSize": 25, "labelColor": "#111",
            "labelPadding": 11, "labelFlush": false, "labelOverlap": false,
            "title": "Desplazamiento Raman (cm⁻¹)", "titleFont": "Liberation Sans", "titleFontSize": 28,
            "titleFontWeight": "bold", "titleColor": "#111",
            "titleX": 407, "titleY": 93, "titleAlign": "center", "titleBaseline": "alphabetic"
          }
        },
        "color": {
          "field": "s", "type": "nominal", "legend": null,
          "scale": {
            "domain": ["bY","bG","bC","bM","bO","bPu","bB1","bB2","tY","tM","tC","tG","tO","tB1","tB2"],
            "range": ["#eeee22","#30e030","#30eeee","#f040f0","#a0a040","#9a3fa8","#3a3ac0","#3a3ac0","#eeee22","#f040f0","#30eeee","#30e030","#a0a040","#3a3ac0","#3a3ac0"]
          }
        }
      }
    },
    {
      "data": {"name": "obs"},
      "mark": {"type": "line", "color": "#2a2a2a", "strokeWidth": 1.3, "clip": true},
      "encoding": {
        "x": {
          "field": "x", "type": "quantitative",
          "scale": {"domain": [100, 940], "nice": false, "zero": false},
          "axis": {
            "orient": "bottom", "values": [150, 250, 350, 450, 550, 650, 750, 850],
            "tickSize": 6, "tickWidth": 2, "tickColor": "#222",
            "domain": false, "labels": false, "title": null
          }
        },
        "detail": {"field": "s", "type": "nominal"}
      }
    },
    {
      "data": {"name": "fit"},
      "mark": {"type": "line", "color": "#f02828", "strokeWidth": 1.5, "interpolate": "monotone", "clip": true},
      "encoding": {
        "x": {
          "field": "x", "type": "quantitative",
          "scale": {"domain": [100, 940], "nice": false, "zero": false},
          "axis": {
            "orient": "top", "domain": true, "domainColor": "#555", "domainWidth": 2,
            "ticks": false, "labels": false, "title": null
          }
        },
        "detail": {"field": "s", "type": "nominal"}
      }
    },
    {
      "data": {"name": "refs"},
      "transform": [{"filter": "datum.k === 'top'"}],
      "mark": {"type": "rule", "color": "#e8302c", "strokeWidth": 2.2, "strokeDash": [2.2, 3.6]},
      "encoding": {
        "x": {"field": "x", "type": "quantitative", "scale": {"domain": [100, 940], "nice": false, "zero": false}, "axis": null},
        "y2": {"field": "y2"}
      }
    },
    {
      "data": {"name": "refs"},
      "transform": [{"filter": "datum.k === 'bot'"}],
      "mark": {"type": "rule", "color": "#1a1a1a", "strokeWidth": 2.2, "strokeDash": [2.2, 3.6]},
      "encoding": {
        "x": {"field": "x", "type": "quantitative", "scale": {"domain": [100, 940], "nice": false, "zero": false}, "axis": null},
        "y2": {"field": "y2"}
      }
    },
    {
      "data": {"name": "modes"},
      "mark": {"type": "text", "align": "left", "baseline": "alphabetic", "font": "Liberation Sans", "fontSize": 27, "color": "#111"},
      "encoding": {
        "x": {"field": "x", "type": "quantitative", "scale": {"domain": [100, 940], "nice": false, "zero": false}, "axis": null},
        "text": {"field": "t"}
      }
    },
    {
      "data": {"name": "subs"},
      "mark": {"type": "text", "align": "left", "baseline": "alphabetic", "font": "Liberation Sans", "fontSize": 18, "color": "#111"},
      "encoding": {
        "x": {"field": "x", "type": "quantitative", "scale": {"domain": [100, 940], "nice": false, "zero": false}, "axis": null},
        "text": {"field": "t"}
      }
    },
    {
      "data": {"name": "names"},
      "mark": {"type": "text", "align": "left", "baseline": "alphabetic", "font": "Liberation Sans", "fontSize": 28, "fontWeight": "bold", "color": "#111"},
      "encoding": {
        "x": {"field": "x", "type": "quantitative", "scale": {"domain": [100, 940], "nice": false, "zero": false}, "axis": null},
        "text": {"field": "t"}
      }
    }
  ],
  "resolve": {"axis": {"x": "independent"}}
}
